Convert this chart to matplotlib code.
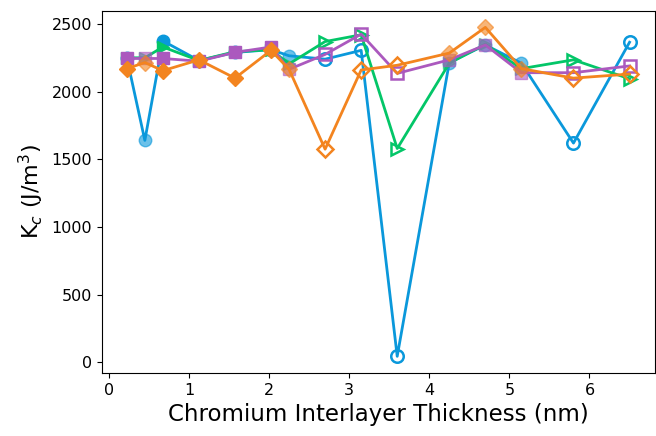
import matplotlib
matplotlib.use("Agg")
import matplotlib.pyplot as plt
import numpy as np

# Chromium interlayer thickness (nm)
thickness = [0.225, 0.45, 0.675, 1.125, 1.575, 2.025, 2.25, 2.7, 3.15, 3.6,
             4.25, 4.7, 5.15, 5.8, 6.5]

# Marker style per thickness point: solid, translucent or open
point_style = ["solid", "light", "solid", "solid", "solid", "solid", "light", "open",
               "open", "open", "light", "light", "light", "open", "open"]

# K_c (J/m^3) for four samples
kc_circle = [2250, 1640, 2375, 2230, 2290, 2310, 2265, 2240, 2305, 45,
             2215, 2345, 2210, 1620, 2365]
kc_triangle = [2250, 2250, 2330, 2230, 2295, 2310, 2205, 2370, 2420, 1580,
               2210, 2350, 2170, 2235, 2095]
kc_square = [2245, 2245, 2245, 2225, 2290, 2330, 2165, 2275, 2425, 2135,
             2235, 2345, 2140, 2140, 2190]
kc_diamond = [2170, 2215, 2155, 2235, 2100, 2305, 2165, 1575, 2160, 2195,
              2285, 2475, 2170, 2100, 2130]

series = [
    (kc_circle, "#0a98db", "o", 9),
    (kc_triangle, "#03c668", ">", 9),
    (kc_square, "#ab59be", "s", 9),
    (kc_diamond, "#f3841f", "D", 8),
]

fig = plt.figure(figsize=(6.56, 4.36), dpi=100)
ax = fig.add_axes([0.155, 0.145, 0.843, 0.830])

x = np.array(thickness)
styles = np.array(point_style)
for values, color, marker, ms in series:
    y = np.array(values)
    ax.plot(x, y, color=color, lw=2)
    for sty in ["solid", "light", "open"]:
        m = styles == sty
        if sty == "solid":
            ax.plot(x[m], y[m], ls="none", marker=marker, ms=ms,
                    mfc=color, mec=color)
        elif sty == "light":
            ax.plot(x[m], y[m], ls="none", marker=marker, ms=ms,
                    mfc=color, mec=color, alpha=0.6)
        else:
            ax.plot(x[m], y[m], ls="none", marker=marker, ms=ms,
                    mfc="none", mec=color, mew=1.8)

ax.set_xlabel("Chromium Interlayer Thickness (nm)", fontsize=16.5)
ax.set_ylabel("K$_c$ (J/m$^3$)", fontsize=16)
ax.tick_params(labelsize=11.5)
ax.set_xticks([0, 1, 2, 3, 4, 5, 6])
ax.set_yticks([0, 500, 1000, 1500, 2000, 2500])

fig.savefig("out.png", dpi=100)
